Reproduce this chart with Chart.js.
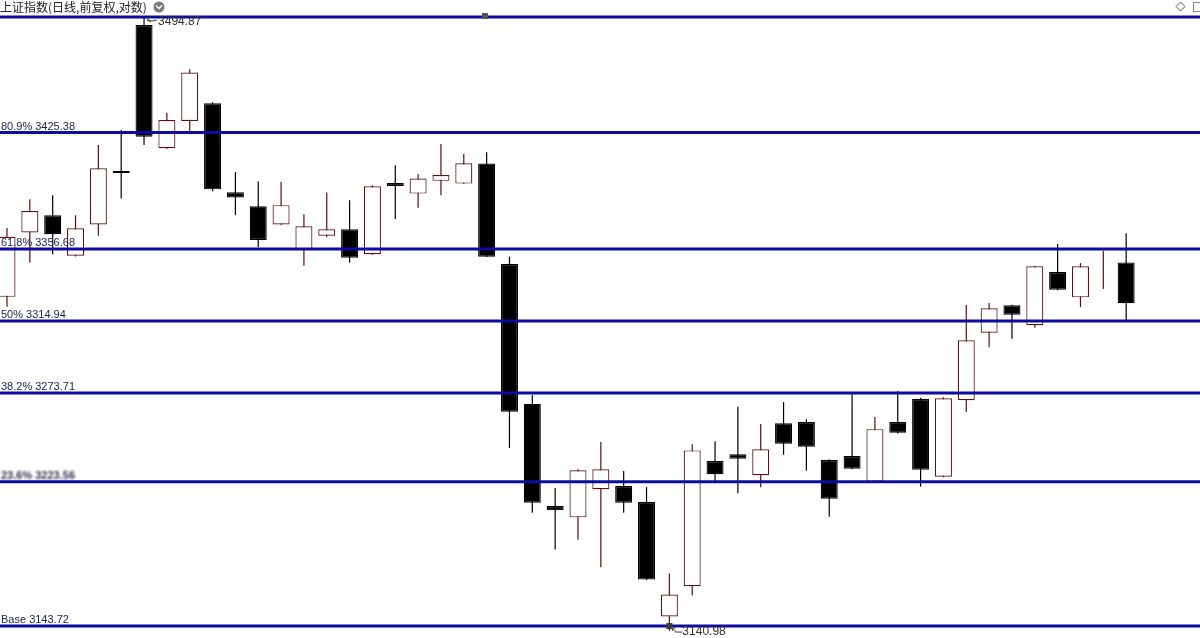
<!DOCTYPE html>
<html>
<head>
<meta charset="utf-8">
<script src="https://cdn.jsdelivr.net/npm/chart.js@4.4.1/dist/chart.umd.min.js"></script>
<style>
  html, body { margin: 0; padding: 0; background: #fff; }
  #wrap { position: relative; width: 1200px; height: 638px; }
</style>
</head>
<body>
<div id="wrap"><canvas id="kline"></canvas></div>
<script>
const chartTitle = '上证指数(日线,前复权,对数)';

// daily candles, oldest first
const openPrices = [3328.9, 3366.4, 3376.5, 3352.8, 3371.1, 3402.5, 3490.0, 3416.0, 3432.2, 3442.8,
  3390.0, 3381.8, 3371.1, 3356.1, 3364.5, 3368.2, 3353.6, 3395.4, 3389.2, 3396.7,
  3395.1, 3407.0, 3348.0, 3267.5, 3210.0, 3203.7, 3219.4, 3221.2, 3212.2, 3149.0,
  3165.6, 3235.2, 3239.1, 3227.2, 3256.6, 3257.2, 3235.8, 3238.0, 3223.6, 3257.2,
  3270.3, 3226.4, 3269.6, 3308.2, 3324.0, 3312.5, 3343.3, 3328.6, 3345.0, 3348.9];
const highPrices = [3369.0, 3385.9, 3388.2, 3376.5, 3418.0, 3426.9, 3494.87, 3437.2, 3463.3, 3443.5,
  3402.0, 3396.4, 3396.0, 3377.1, 3389.8, 3385.3, 3394.1, 3406.0, 3400.7, 3418.5,
  3412.6, 3413.6, 3352.2, 3272.6, 3220.1, 3230.6, 3245.9, 3229.6, 3220.6, 3172.5,
  3244.6, 3246.4, 3265.9, 3256.1, 3268.6, 3258.8, 3236.2, 3273.7, 3260.1, 3274.9,
  3271.0, 3271.3, 3324.2, 3325.3, 3324.3, 3346.9, 3359.6, 3348.5, 3355.7, 3365.9];
const lowPrices = [3323.2, 3348.9, 3353.6, 3352.3, 3364.5, 3386.3, 3418.0, 3415.5, 3426.3, 3390.5,
  3376.5, 3357.7, 3370.8, 3347.0, 3363.5, 3348.7, 3353.3, 3374.2, 3380.8, 3388.2,
  3394.9, 3352.0, 3242.6, 3206.2, 3185.9, 3191.3, 3176.0, 3206.2, 3169.0, 3140.98,
  3160.5, 3224.0, 3217.1, 3220.5, 3238.7, 3229.8, 3204.0, 3230.6, 3223.3, 3250.8,
  3220.8, 3226.1, 3262.9, 3299.8, 3304.7, 3311.1, 3332.7, 3323.0, 3333.5, 3315.1];
const closePrices = [3363.9, 3378.9, 3365.3, 3368.8, 3404.1, 3401.3, 3422.9, 3432.8, 3461.3, 3391.7,
  3386.9, 3362.0, 3382.4, 3370.0, 3368.2, 3351.6, 3393.5, 3393.6, 3398.1, 3400.1,
  3407.1, 3352.2, 3263.1, 3211.8, 3207.6, 3230.0, 3230.6, 3211.8, 3169.2, 3161.0,
  3241.2, 3227.8, 3236.5, 3241.8, 3244.9, 3243.2, 3214.1, 3230.9, 3253.2, 3251.1,
  3230.3, 3270.7, 3303.8, 3322.3, 3318.6, 3346.6, 3333.0, 3346.6, 3345.0, 3325.2];

// golden section lines
const fibNames = ['100%', '80.9%', '61.8%', '50%', '38.2%', '23.6%', 'Base'];
const fibPrices = [3494.87, 3425.38, 3356.68, 3314.94, 3273.71, 3223.56, 3143.72];

const highIndex = 6;
const lowIndex = 29;

const upColor = '#5e0e0e';
const downColor = '#000000';
const fibColor = '#0c0ca2';

const days = openPrices.map((v, i) => i);
const isUp = days.map(i => closePrices[i] >= openPrices[i]);

const fibSets = fibPrices.map((p, k) => ({
    type: 'line',
    label: fibNames[k],
    data: [{x: -5, y: p}, {x: 80, y: p}],
    borderColor: fibColor,
    borderWidth: 3,
    pointRadius: 0,
    order: 0
}));

const overlay = {
    id: 'overlay',
    afterDatasetsDraw(chart) {
        const ctx = chart.ctx;
        const xs = chart.scales.x;
        const ys = chart.scales.y;
        ctx.save();

        // level labels
        ctx.font = '11px "Liberation Sans", Arial, sans-serif';
        ctx.fillStyle = '#1e1e50';
        ctx.textBaseline = 'alphabetic';
        fibPrices.forEach((p, k) => {
            if (k === 0) return;
            const y = ys.getPixelForValue(p);
            const txt = fibNames[k] + ' ' + p.toFixed(2);
            if (fibNames[k] === '23.6%') {
                ctx.save();
                ctx.filter = 'blur(1.3px)';
                ctx.fillStyle = '#303048';
                ctx.font = 'bold 11px "Liberation Sans", Arial, sans-serif';
                ctx.fillText(txt, 1, y - 3);
                ctx.restore();
            } else {
                ctx.fillText(txt, 1, y - 3);
            }
        });

        // high / low markers
        ctx.strokeStyle = '#444';
        ctx.fillStyle = '#333';
        ctx.lineWidth = 1;
        ctx.font = '12px "Liberation Sans", Arial, sans-serif';
        ctx.textBaseline = 'middle';

        const hx = xs.getPixelForValue(highIndex) + 3;
        const hy = ys.getPixelForValue(highPrices[highIndex]) + 1;
        ctx.beginPath();
        ctx.moveTo(hx + 4, hy - 1); ctx.lineTo(hx, hy + 2); ctx.lineTo(hx + 4, hy + 4);
        ctx.moveTo(hx, hy + 2); ctx.lineTo(hx + 5, hy + 3); ctx.lineTo(hx + 10, hy + 2);
        ctx.stroke();
        ctx.fillText(highPrices[highIndex].toFixed(2), hx + 11, hy + 4);

        const lx = xs.getPixelForValue(lowIndex);
        const ly = ys.getPixelForValue(lowPrices[lowIndex]) - 5;
        ctx.fillStyle = '#3a3a3a';
        ctx.fillRect(lx - 3, ly - 3, 6, 6);
        ctx.beginPath();
        ctx.moveTo(lx + 3, ly + 2); ctx.lineTo(lx + 7, ly + 6);
        ctx.moveTo(lx + 3, ly + 2); ctx.lineTo(lx + 3, ly + 5);
        ctx.moveTo(lx + 3, ly + 2); ctx.lineTo(lx + 6, ly + 2);
        ctx.moveTo(lx + 6, ly + 6); ctx.lineTo(lx + 13, ly + 6);
        ctx.stroke();
        ctx.fillStyle = '#333';
        ctx.fillText(lowPrices[lowIndex].toFixed(2), lx + 13, ly + 6);

        // title and toolbar glyphs
        ctx.fillStyle = '#222';
        ctx.font = '12px "Noto Sans CJK SC", sans-serif';
        ctx.textBaseline = 'alphabetic';
        ctx.fillText(chartTitle, 0, 12);
        ctx.fillStyle = '#7a7a7a';
        ctx.beginPath();
        ctx.arc(159, 7, 5.5, 0, Math.PI * 2);
        ctx.fill();
        ctx.strokeStyle = '#fff';
        ctx.lineWidth = 1.4;
        ctx.beginPath();
        ctx.moveTo(156, 5.5); ctx.lineTo(159, 8.5); ctx.lineTo(162, 5.5);
        ctx.stroke();

        ctx.fillStyle = '#555';
        ctx.fillRect(482, 13, 6, 6);

        ctx.strokeStyle = '#555';
        ctx.lineWidth = 1;
        ctx.beginPath();
        ctx.moveTo(1180.5, 2); ctx.lineTo(1185, 6.5); ctx.lineTo(1180.5, 11); ctx.lineTo(1176, 6.5); ctx.closePath();
        ctx.stroke();
        ctx.strokeStyle = '#888';
        ctx.strokeRect(1193.5, 2.5, 9, 9);
        ctx.restore();
    }
};

new Chart(document.getElementById('kline'), {
    type: 'bar',
    data: {
        datasets: [
            ...fibSets,
            {
                label: 'body',
                data: days.map(i => ({x: i, y: [openPrices[i], closePrices[i]]})),
                backgroundColor: days.map(i => isUp[i] ? '#ffffff' : downColor),
                borderColor: days.map(i => isUp[i] ? upColor : downColor),
                borderWidth: 1.2,
                borderSkipped: false,
                barThickness: 17,
                grouped: false,
                inflateAmount: 0,
                order: 1
            },
            {
                label: 'wick',
                data: days.map(i => ({x: i, y: [lowPrices[i], highPrices[i]]})),
                backgroundColor: days.map(i => isUp[i] ? upColor : downColor),
                borderWidth: 0,
                barThickness: 1.2,
                grouped: false,
                inflateAmount: 0,
                order: 2
            }
        ]
    },
    options: {
        responsive: true,
        maintainAspectRatio: false,
        animation: false,
        layout: { padding: 0 },
        plugins: {
            legend: { display: false },
            tooltip: { enabled: false },
            title: { display: false }
        },
        scales: {
            x: { type: 'linear', display: false, offset: false, min: -0.3065, max: 52.233 },
            y: { type: 'logarithmic', display: false, min: 3137.19, max: 3505.21 }
        }
    },
    plugins: [overlay]
});
</script>
</body>
</html>
